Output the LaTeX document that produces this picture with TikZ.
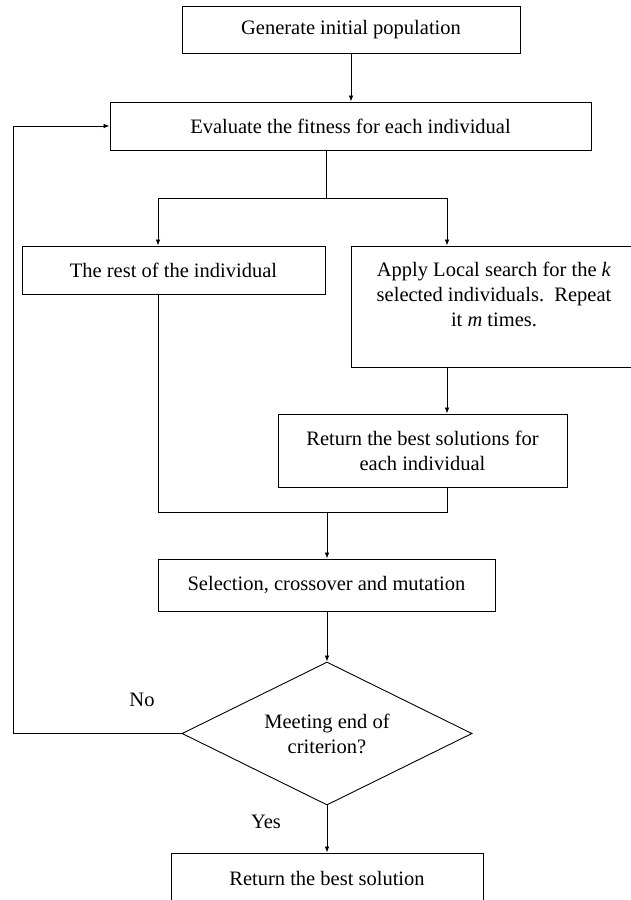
\documentclass[tikz,border=0pt]{standalone}
\usepackage{fontspec}
\setmainfont{Liberation Serif}
\usetikzlibrary{arrows.meta,shapes.geometric}
\begin{document}
\begin{tikzpicture}[x=1pt,y=-1pt,
  txt/.style={font=\fontsize{20.5}{25}\selectfont},
  box/.style={txt,draw,line width=0.9pt,inner sep=0pt,align=center,rectangle},
  dec/.style={txt,draw,line width=0.9pt,inner sep=0pt,align=center,diamond,aspect=2.03},
  conn/.style={line width=0.8pt},
  arr/.style={conn,-{Latex[length=6pt,width=4.5pt]}}]
\useasboundingbox (0,0) rectangle (631,900);
\clip (0,0) rectangle (631,900);
\node[box,minimum width=338pt,minimum height=47pt] (b1) at (351,29.5) {Generate initial population};
\node[box,minimum width=481pt,minimum height=48pt] (b2) at (350.5,126) {Evaluate the fitness for each individual};
\node[box,minimum width=303pt,minimum height=48pt] (b3) at (173.5,270) {The rest of the individual};
\node[box,minimum width=286pt,minimum height=121pt] (b4) at (494,306.5) {Apply Local search for the \textit{k}\\selected individuals.\ \ Repeat\\it \textit{m} times.\\ };
\node[box,minimum width=289pt,minimum height=73pt] (b5) at (422.5,450.5) {Return the best solutions for\\each individual};
\node[box,minimum width=337pt,minimum height=52pt] (b6) at (326.5,585) {Selection, crossover and mutation};
\node[dec,minimum width=290pt,minimum height=143pt] (d) at (327,733.5) {Meeting end of\\criterion?};
\node[box,minimum width=312pt,minimum height=50pt] (b7) at (327,878) {Return the best solution};
\node[txt,inner sep=0pt] (no) at (142,700) {No};
\node[txt,inner sep=0pt] (yes) at (266,822) {Yes};
\coordinate (sp) at (326,198);
\coordinate (lx) at (158,198);
\coordinate (rx) at (447,198);
\coordinate (jn) at (327,512);
\coordinate (lp) at (13,733.5);
\draw[arr] (b1.south) -- (b1.south |- b2.north);
\draw[conn] (b2.south -| sp) -- (sp);
\draw[conn] (lx) -- (rx);
\draw[arr] (lx) -- (lx |- b3.north);
\draw[arr] (rx) -- (rx |- b4.north);
\draw[arr] (rx |- b4.south) -- (rx |- b5.north);
\draw[conn] (lx |- b3.south) -- (lx |- jn) -- (rx |- jn) -- (rx |- b5.south);
\draw[arr] (jn) -- (jn |- b6.north);
\draw[arr] (b6.south -| d.north) -- (d.north);
\draw[arr] (d.west) -- (lp) |- (b2.west);
\draw[arr] (d.south) -- (b7.north);
\end{tikzpicture}
\end{document}
